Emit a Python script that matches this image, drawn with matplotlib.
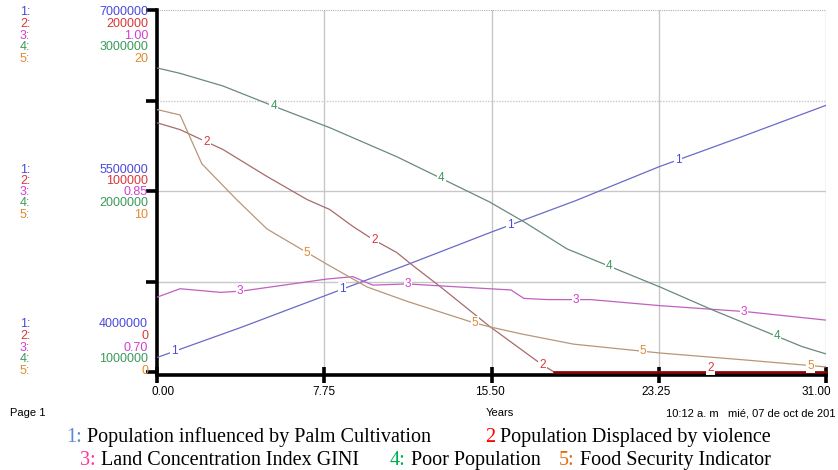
import matplotlib
matplotlib.use("Agg")
import matplotlib.pyplot as plt
import matplotlib.transforms as mtransforms
import numpy as np

# ---------------- data ----------------
years_palm = [0, 3.9, 7.75, 11.6, 15.5, 19.4, 23.25, 27.1, 31]
pop_palm = [4.12e6, 4.37e6, 4.63e6, 4.89e6, 5.16e6, 5.42e6, 5.70e6, 5.95e6, 6.21e6]

years_displaced = [0, 1.07, 3.06, 5.1, 6.95, 8.0, 9.08, 10.0, 11.1, 11.9, 13.1, 15.4, 17.8, 18.4, 31]
pop_displaced = [137.7e3, 133.9e3, 122.9e3, 108e3, 95.3e3, 89.8e3, 80.4e3, 73.3e3, 66.1e3,
                 58.4e3, 47.4e3, 25.3e3, 4.4e3, 0, 0]

years_gini = [0, 1.07, 2.95, 3.9, 7.85, 9.08, 10.0, 11.6, 15.4, 16.4, 17.0, 18.1, 20.1, 23.3, 27.3, 31]
gini = [0.762, 0.769, 0.766, 0.767, 0.777, 0.779, 0.772, 0.773, 0.769, 0.768, 0.761, 0.760,
        0.760, 0.755, 0.750, 0.743]

years_poor = [0, 1.07, 3.06, 5.38, 8.0, 11.1, 14.2, 15.4, 17.0, 19.0, 23.3, 25.8, 29.9, 31]
poor = [2.68e6, 2.65e6, 2.58e6, 2.47e6, 2.35e6, 2.19e6, 2.01e6, 1.94e6, 1.83e6, 1.68e6,
        1.47e6, 1.34e6, 1.14e6, 1.10e6]

years_food = [0, 1.07, 2.08, 3.71, 5.1, 6.95, 7.88, 9.73, 11.6, 14.6, 15.4, 16.9, 19.3, 23.3, 27.3, 31]
food = [14.5, 14.2, 11.5, 9.5, 7.9, 6.6, 5.95, 4.7, 3.9, 2.75, 2.5, 2.1, 1.54, 1.05, 0.66, 0.28]

series_ranges = [(4e6, 7e6), (0, 200000), (0.70, 1.00), (1e6, 3e6), (0, 20)]
range_labels = [["7000000", "200000", "1.00", "3000000", "20"],
                ["5500000", "100000", "0.85", "2000000", "10"],
                ["4000000", "0", "0.70", "1000000", "0"]]
x_ticks = [0, 7.75, 15.5, 23.25, 31]
x_tick_labels = ["0.00", "7.75", "15.50", "23.25", "31.00"]
legend_names = ["Population influenced by Palm Cultivation", "Population Displaced by violence",
                "Land Concentration Index GINI", "Poor Population", "Food Security Indicator"]

line_colors = ["#6a6ac8", "#a86a6a", "#c060c0", "#6a8a78", "#b8967a"]
label_colors = ["#4a4ad8", "#d83838", "#d040d0", "#3a9a5a", "#e08a30"]
legend_colors = ["#5b8bd0", "#ff0000", "#ff3399", "#00b050", "#e36c09"]

W, H = 838, 470
fig = plt.figure(figsize=(W / 100, H / 100), dpi=100)
L, R, T, B = 157, 826, 10, 372
ax = fig.add_axes([L / W, 1 - B / H, (R - L) / W, (B - T) / H])
ax.set_xlim(0, 31)
ax.set_ylim(0, 1)

# grid
for xv in x_ticks[1:]:
    ax.axvline(xv, color="#c8c8c8", lw=1.0, zorder=0)
for yv in [0.25, 0.5]:
    ax.axhline(yv, color="#c8c8c8", lw=1.0, zorder=0)
ax.axhline(0.75, color="#c8c8c8", lw=1.0, ls=(0, (1, 1)), zorder=0)
ax.axhline(1.0, color="#b0b0b0", lw=0.8, ls=(0, (1, 1)), zorder=0)

for s in ["top", "right"]:
    ax.spines[s].set_visible(False)
ax.spines["left"].set_linewidth(2.6)
ax.spines["bottom"].set_linewidth(2.6)
ax.spines["bottom"].set_position(("outward", 2))
ax.set_xticks(x_ticks)
ax.set_xticklabels(x_tick_labels, fontsize=8.5, family=["Liberation Sans Narrow", "Liberation Sans"])
ax.set_yticks([0, 0.25, 0.5, 0.75, 1.0])
ax.set_yticklabels([])
ax.tick_params(axis="x", direction="inout", length=12, width=2.6, pad=2)
ax.tick_params(axis="y", direction="out", length=8, width=2.6)
offsets_px = [6, 0, -2, -3, -10]
for lab, dx in zip(ax.get_xticklabels(), offsets_px):
    lab.set_transform(lab.get_transform() + mtransforms.ScaledTranslation(dx / 100, 0, fig.dpi_scale_trans))

data = [(years_palm, pop_palm), (years_displaced, pop_displaced), (years_gini, gini),
        (years_poor, poor), (years_food, food)]
label_starts = [0.8, 2.3, 3.85, 5.4, 6.95]
for i, ((xs, ys), (lo, hi)) in enumerate(zip(data, series_ranges)):
    a = ax.twinx()
    a.set_ylim(lo, hi)
    a.set_xlim(0, 31)
    a.axis("off")
    a.patch.set_visible(False)
    a.plot(xs, ys, color=line_colors[i], lw=0.9, zorder=2)
    if i == 1:
        xs_a = np.array(xs)
        ys_a = np.array(ys)
        m = xs_a >= 18.4
        a.plot(xs_a[m], ys_a[m], color="#8b0000", lw=1.8, zorder=3, clip_on=False)
    for k in range(4):
        xl = label_starts[i] + 7.78 * k
        yl = np.interp(xl, xs, ys)
        if i == 1 and yl == 0:
            yl = (hi - lo) * 0.012
        a.text(xl, yl, str(i + 1), color=label_colors[i], fontsize=8.5, ha="center", va="center",
               family="Liberation Sans", zorder=5,
               bbox=dict(boxstyle="square,pad=0.08", fc="white", ec="none"))

# left scale labels
blocks_y = [[12, 24, 36, 47, 59], [170, 181, 192, 203, 215], [324, 336, 348, 359, 371]]
for bi, ys in enumerate(blocks_y):
    for si, yy in enumerate(ys):
        fig.text(20 / W, 1 - yy / H, f"{si + 1}:", color=label_colors[si], fontsize=9,
                 ha="left", va="center", family="Liberation Sans")
        fig.text(148 / W, 1 - yy / H, range_labels[bi][si], color=label_colors[si], fontsize=9,
                 ha="right", va="center", family="Liberation Sans")

narrow = ["Liberation Sans Narrow", "Liberation Sans"]
fig.text(10 / W, 1 - 413 / H, "Page 1", fontsize=8, ha="left", va="center", family=narrow)
fig.text(500 / W, 1 - 413 / H, "Years", fontsize=8, ha="center", va="center", family=narrow)
fig.text(835 / W, 1 - 413 / H, "10:12 a. m   mié, 07 de oct de 201", fontsize=8, ha="right",
         va="center", family=narrow)

# multi-colour legend lines
renderer = fig.canvas.get_renderer()


def draw_line(parts, yy):
    for s, c, xstart in parts:
        t = fig.text(0, 1 - yy / H, s, color=c, fontsize=14.5, family="Liberation Serif",
                     ha="left", va="baseline")
        if xstart is None:
            t.set_x(draw_line.cursor / W)
        else:
            t.set_x(xstart / W)
        ext = t.get_window_extent(renderer)
        draw_line.cursor = ext.x1


draw_line.cursor = 0
draw_line([("1:", legend_colors[0], 66), (" " + legend_names[0], "black", None),
           ("2", legend_colors[1], 485), (" " + legend_names[1], "black", None)], 442)
draw_line([("3:", legend_colors[2], 80), (" " + legend_names[2], "black", None),
           ("4:", legend_colors[3], 390), (" " + legend_names[3], "black", None),
           ("5:", legend_colors[4], 559), (" " + legend_names[4], "black", None)], 465)

fig.savefig("out.png", dpi=100)
